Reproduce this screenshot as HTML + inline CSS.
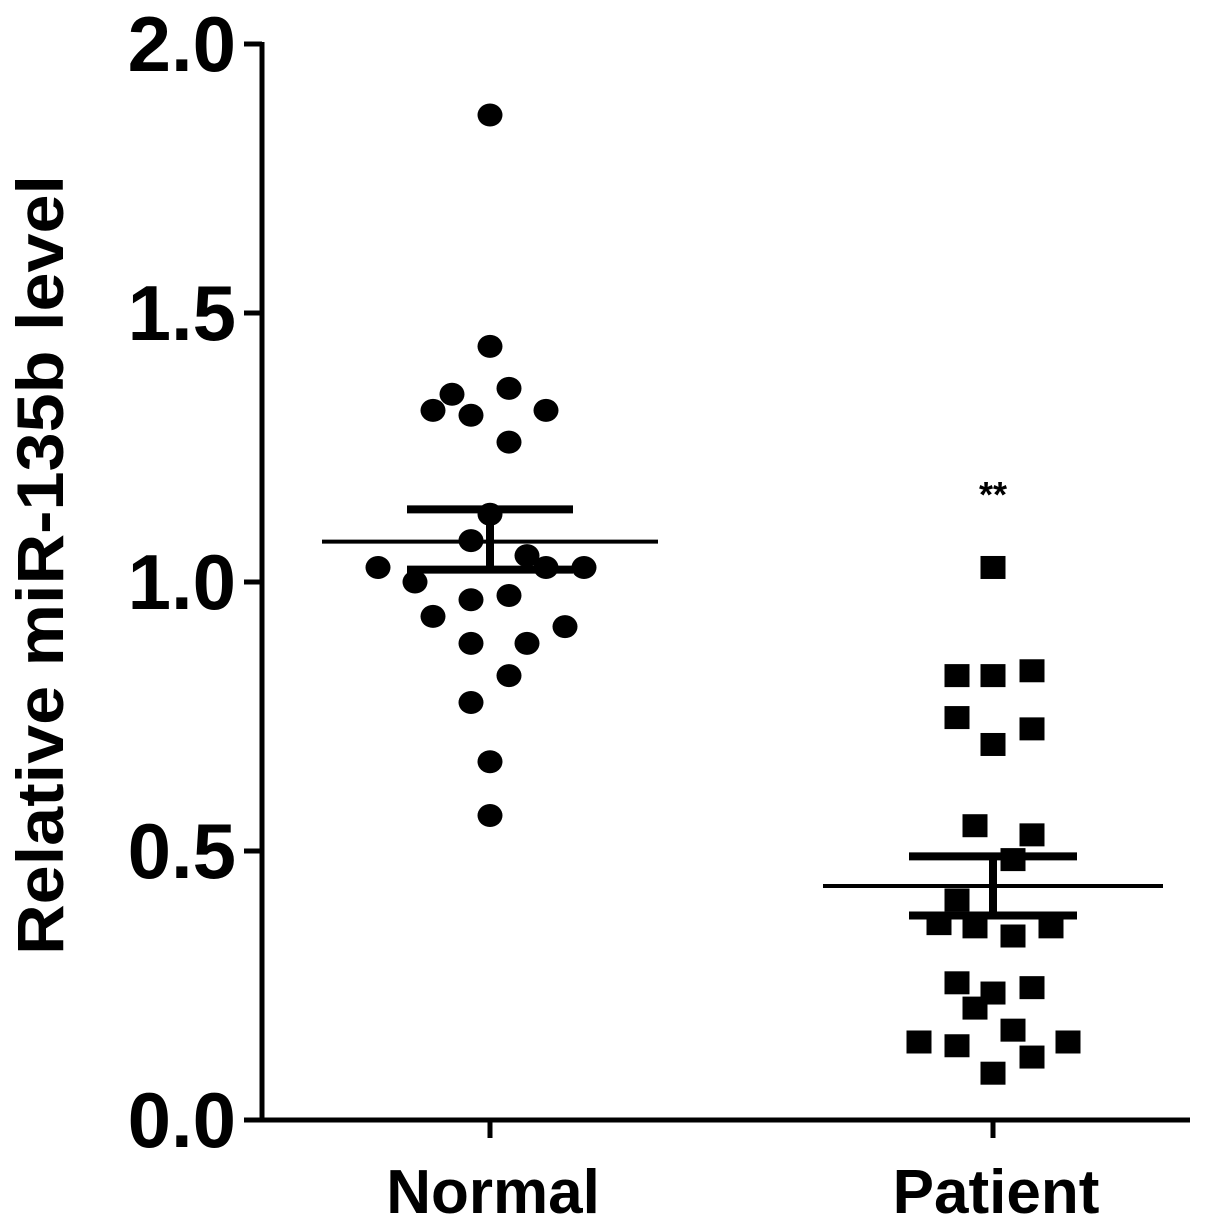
<!DOCTYPE html>
<html><head><meta charset="utf-8"><style>
html,body{margin:0;padding:0;background:#fff}
svg{display:block}
text{font-family:"Liberation Sans",Arial,sans-serif;font-weight:bold;fill:#000}
</style></head><body>
<svg id="chart" width="1205" height="1224" viewBox="0 0 1205 1224"></svg>
<script>
const categories = ["Normal","Patient"];
const normalValues = [1.868,1.438,1.349,1.319,1.31,1.36,1.319,1.26,1.126,1.077,1.027,1.0,1.049,1.027,1.027,0.936,0.967,0.975,0.917,0.886,0.886,0.826,0.776,0.666,0.566];
const patientValues = [1.027,0.826,0.826,0.835,0.748,0.698,0.727,0.547,0.53,0.484,0.409,0.365,0.359,0.342,0.359,0.255,0.236,0.208,0.246,0.145,0.138,0.167,0.117,0.145,0.087];
const normalStats = [1.075,1.135,1.023];   // mean, upper SEM, lower SEM
const patientStats = [0.435,0.49,0.38];
const yTicks = [0.0,0.5,1.0,1.5,2.0];
const yTickLabels = ["0.0","0.5","1.0","1.5","2.0"];
// horizontal jitter (layout, px) per point
const normalJitter = [0,0,-38,-57,-19,19,56,19,0,-19,-112,-75,37,56,94,-57,-19,19,75,-19,37,19,-19,0,0];
const patientJitter = [0,-36,0,39,-36,0,39,-18,39,20,-36,-54,-18,20,58,-36,0,-18,39,-74,-36,20,39,75,0];

const NS="http://www.w3.org/2000/svg";
const svg=document.getElementById('chart');
const X0=262, XR=1190, Y0=1120, YTOP=44;
const y=v=>Y0-(v-0)/(2.0-0)*(Y0-YTOP);
const xCat=[490,993];
function el(tag,attrs,parent){const e=document.createElementNS(NS,tag);for(const k in attrs)e.setAttribute(k,attrs[k]);(parent||svg).appendChild(e);return e;}

const ya=el('line',{x1:X0,y1:YTOP-2,x2:X0,y2:Y0+2,stroke:'#000','stroke-width':5});


const xa=el('line',{x1:X0-2,y1:Y0,x2:XR,y2:Y0,stroke:'#000','stroke-width':5});



yTicks.forEach((t,i)=>{
  const tk=el('line',{x1:X0-18,y1:y(t),x2:X0,y2:y(t),stroke:'#000','stroke-width':5});
  
  
  const tx=el('text',{x:236,y:y(t)+27,'text-anchor':'end','font-size':78});
  tx.textContent=yTickLabels[i];
  
  
});
categories.forEach((c,i)=>{
  const tk=el('line',{x1:xCat[i],y1:Y0,x2:xCat[i],y2:Y0+18,stroke:'#000','stroke-width':5});
  
  
  const tx=el('text',{x:xCat[i]+3,y:1213,'text-anchor':'middle','font-size':62});
  tx.textContent=c;
  
  
});
const yt=el('text',{x:0,y:0,'text-anchor':'middle','font-size':66,textLength:780,lengthAdjust:'spacingAndGlyphs',transform:'translate(63,565) rotate(-90)'});
yt.textContent='Relative miR-135b level';



normalValues.forEach((v,i)=>{
  const c=el('ellipse',{cx:xCat[0]+normalJitter[i],cy:y(v),rx:12.5,ry:11.5,fill:'#000'});
  
  
});
patientValues.forEach((v,i)=>{
  const r=el('rect',{x:xCat[1]+patientJitter[i]-12.5,y:y(v)-11.5,width:25,height:23,fill:'#000'});
  
  
});

function stats(s,cx,half,capHalf,name){
  const m=el('line',{x1:cx-half,y1:y(s[0]),x2:cx+half,y2:y(s[0]),stroke:'#000','stroke-width':4});
  
  
  const v=el('line',{x1:cx,y1:y(s[1]),x2:cx,y2:y(s[2]),stroke:'#000','stroke-width':8});
  
  
  [s[1],s[2]].forEach(val=>{
    const c=el('line',{x1:cx-capHalf,y1:y(val),x2:cx+capHalf,y2:y(val),stroke:'#000','stroke-width':8});
    
    
  });
}
stats(normalStats,xCat[0],168,83,'normal');
stats(patientStats,xCat[1],170,84,'patient');

const sig=el('text',{x:xCat[1],y:507,'text-anchor':'middle','font-size':36});
sig.textContent='**';


</script>
</body></html>
